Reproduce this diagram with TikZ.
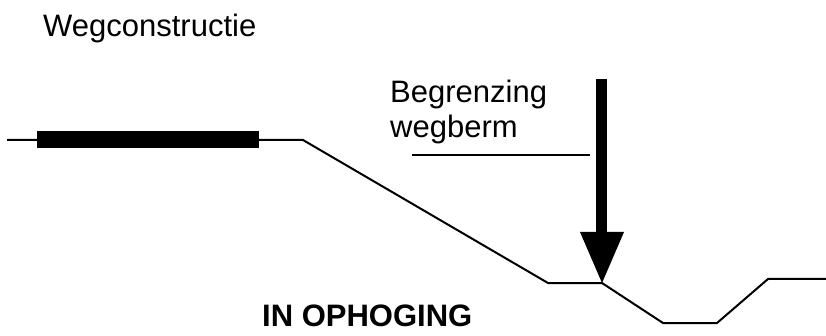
\documentclass[tikz,border=0pt]{standalone}
\usepackage{fontspec}
\setmainfont{Liberation Sans}
\begin{document}
\begin{tikzpicture}[x=1pt, y=-1pt, every node/.style={inner sep=0pt, anchor=base west}]
\useasboundingbox (0,0) rectangle (826,336);
\fontsize{31}{35}\selectfont

\coordinate (W) at (7,140);
\coordinate (K) at (303,140);
\coordinate (BL) at (548,283);
\coordinate (BR) at (602,283);
\coordinate (SL) at (663,323);
\coordinate (SR) at (717,323);
\coordinate (T) at (768,279);
\coordinate (E) at (826,279);

\draw[line width=2pt] (W) -- (K) -- (BL) -- (BR) -- (SL) -- (SR) -- (T) -- (E);
\fill (37,131) rectangle (259,148);

\node (weg) at (43,37) {Wegconstructie};
\node (begr) at (390,103) {Begrenzing};
\node (berm) at (390,138) {wegberm};
\node[font=\bfseries] (oph) at (262,326) {IN OPHOGING};

\coordinate (U1) at (412,155);
\coordinate (U2) at (590,155);
\draw[line width=1.5pt] (U1) -- (U2);

% pijl naar de bermgrens
\fill (596,79) rectangle (607,232);
\fill (580,232) -- (624,232) -- (BR) -- cycle;

\end{tikzpicture}
\end{document}
